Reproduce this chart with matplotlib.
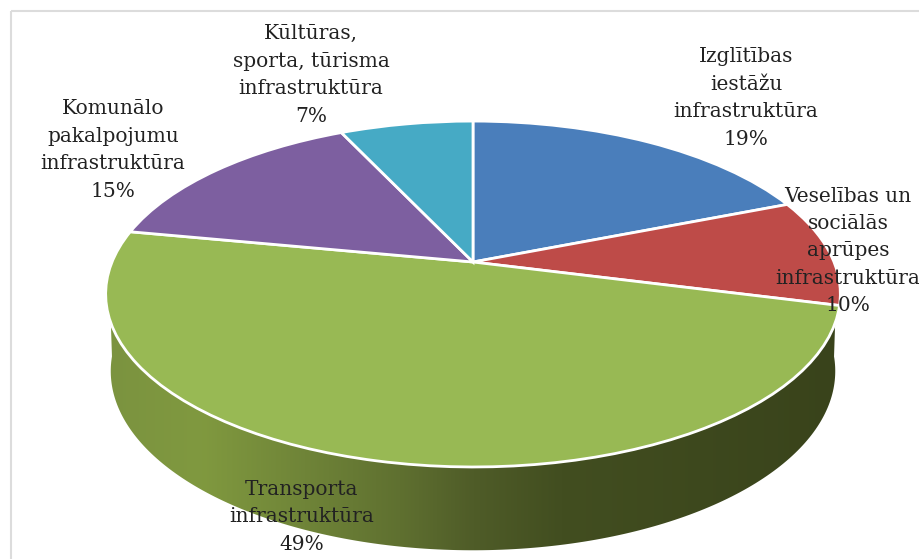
import numpy as np
import matplotlib
matplotlib.use("Agg")
import matplotlib.pyplot as plt
from matplotlib.colors import LinearSegmentedColormap
from matplotlib.patches import Polygon, Rectangle
from matplotlib.transforms import Transform

# data
categories = ["Izglītības\niestāžu\ninfrastruktūra",
              "Veselības un\nsociālās\naprūpes\ninfrastruktūra",
              "Transporta\ninfrastruktūra",
              "Komunālo\npakalpojumu\ninfrastruktūra",
              "Kūltūras,\nsporta, tūrisma\ninfrastruktūra"]
values = [19, 10, 49, 15, 7]
colors = ["#4a7ebb", "#be4b48", "#98b954", "#7d5fa0", "#46aac5"]
label_x = [746, 848, 302, 113, 311]
label_y = [98, 251, 517, 150, 75]


# unit disc -> picture pixels, the far side of the pie is squeezed (perspective)
class Tilt(Transform):
    input_dims = 2
    output_dims = 2

    def __init__(self, cx, cy, rx, ry, k=0.185):
        super().__init__()
        self.p = (cx, cy, rx, ry, k)

    def transform_non_affine(self, xy):
        cx, cy, rx, ry, k = self.p
        xy = np.asarray(xy, dtype=float)
        w = 1 + k * xy[:, 1]
        return np.column_stack((cx + rx * xy[:, 0] / w, cy - ry * xy[:, 1] / w))


def rim(tilt, a, b):
    t = np.radians(np.linspace(a, b, 200))
    return tilt.transform_non_affine(np.column_stack((np.cos(t), np.sin(t))))


fig = plt.figure(figsize=(9.2, 5.59), dpi=100)
ax = fig.add_axes([0, 0, 1, 1])

top = Tilt(473, 262, 361, 167)
bottom = Tilt(473, 338, 356, 173)

# pie top
wedges = ax.pie(values, colors=colors, startangle=90, counterclock=False,
                wedgeprops=dict(edgecolor="white", linewidth=2))[0]
for w in wedges:
    w.set_transform(top + ax.transData)
    w.set_zorder(3)

# side wall of the big slice, gradient clipped to the outline
side = np.vstack((rim(top, 200, 200), rim(bottom, 186, 354), rim(top, 340, 340)))
wall = LinearSegmentedColormap.from_list("wall", [
    (0.0, "#7b9340"), (0.13, "#80993f"), (0.27, "#6f8438"), (0.40, "#5f7030"),
    (0.50, "#4f5c28"), (0.62, "#424e20"), (1.0, "#39431b")])
img = ax.imshow(np.linspace(0, 1, 256).reshape(1, -1), cmap=wall, aspect="auto",
                extent=(106, 841, 559, 280), zorder=1)
clip = Polygon(side, closed=True, transform=ax.transData, facecolor="none", edgecolor="none")
ax.add_patch(clip)
img.set_clip_path(clip)

# frame of the chart
ax.add_patch(Rectangle((11, 11), 1000, 700, facecolor="none", edgecolor="#dcdcdc", linewidth=1.5, zorder=0))

for name, v, x, y in zip(categories, values, label_x, label_y):
    ax.text(x, y, f"{name}\n{v}%", ha="center", va="center", ma="center",
            family="DejaVu Serif", fontsize=14.5, color="#222222",
            linespacing=1.56, zorder=5)

ax.set_aspect("auto")
ax.set_xlim(0, 920)
ax.set_ylim(559, 0)
ax.axis("off")

fig.savefig("out.png", dpi=100)
